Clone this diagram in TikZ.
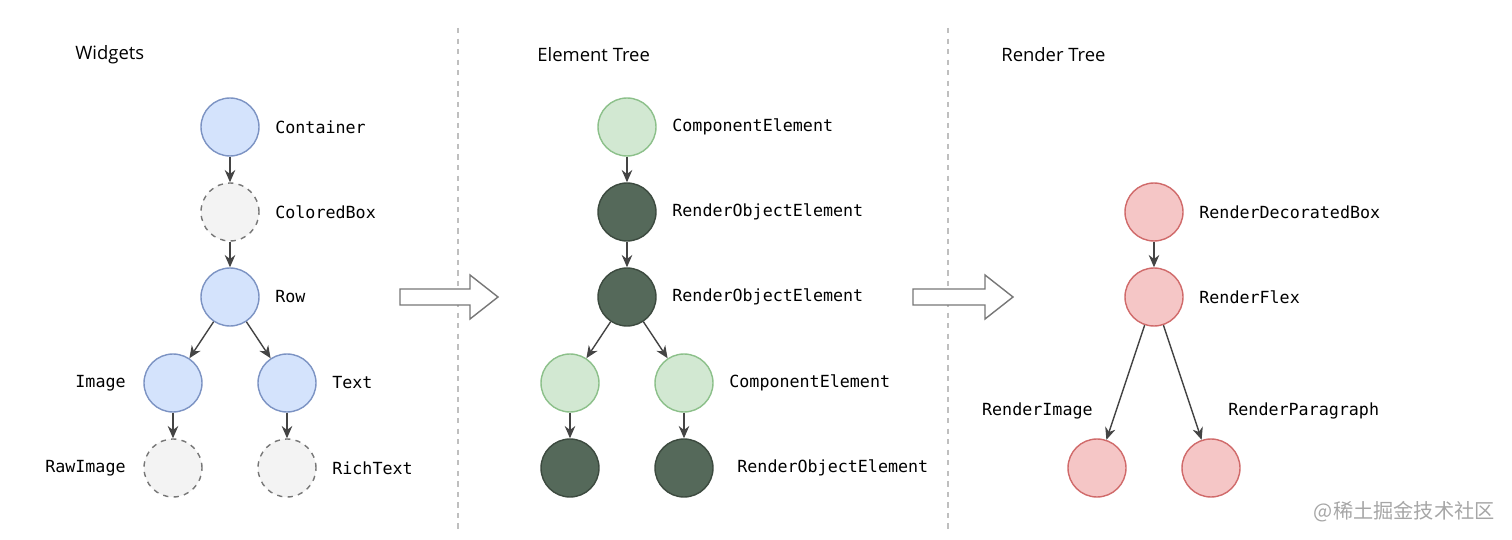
\documentclass[tikz,border=0pt]{standalone}
\usepackage{fontspec}
\setmainfont{Open Sans}
\newfontfamily\labelfont{DejaVu Sans Mono}
\newfontfamily\cjk{Noto Sans CJK SC}
\usetikzlibrary{arrows.meta}
\definecolor{bluefill}{HTML}{D4E3FC}
\definecolor{bluedraw}{HTML}{7C93C3}
\definecolor{greyfill}{HTML}{F3F3F3}
\definecolor{greydraw}{HTML}{777777}
\definecolor{lgreenfill}{HTML}{D2E8D2}
\definecolor{lgreendraw}{HTML}{8CC08A}
\definecolor{dgreenfill}{HTML}{55695A}
\definecolor{dgreendraw}{HTML}{3C4A3F}
\definecolor{pinkfill}{HTML}{F5C6C6}
\definecolor{pinkdraw}{HTML}{D06A6A}
\definecolor{edgecol}{HTML}{444444}
\begin{document}
\begin{tikzpicture}[x=0.02cm, y=-0.02cm, >={Stealth[length=7pt,width=6pt]},
    ball/.style={circle, minimum size=1.16cm, inner sep=0pt, line width=0.8pt},
    widget/.style={ball, draw=bluedraw, fill=bluefill},
    ghost/.style={ball, draw=greydraw, fill=greyfill, dashed},
    comp/.style={ball, draw=lgreendraw, fill=lgreenfill},
    robj/.style={ball, draw=dgreendraw, fill=dgreenfill},
    rend/.style={ball, draw=pinkdraw, fill=pinkfill},
    lbl/.style={font=\labelfont\fontsize{9.5}{11}\selectfont, text=black, inner sep=0pt},
    title/.style={font=\fontsize{10.5}{12}\selectfont, anchor=west, inner sep=0pt},
    edge/.style={->, draw=edgecol, line width=0.8pt},
    bigarrow/.style={draw=greydraw, fill=white, line width=0.8pt}]
  \useasboundingbox (0,0) rectangle (1512,540);

  % Titles
  \node[title] (t1) at (75,55) {Widgets};
  \node[title] (t2) at (537,55) {Element Tree};
  \node[title] (t3) at (1001,55) {Render Tree};

  % Dividers
  \draw[gray!50, dashed, line width=0.6pt] (458,28) -- (458,532);
  \draw[gray!50, dashed, line width=0.6pt] (948,28) -- (948,532);

  % Widgets
  \node[widget] (container) at (230,127) {};
  \node[ghost] (coloredbox) at (230,212) {};
  \node[widget] (row) at (230,297) {};
  \node[widget] (image) at (173,383) {};
  \node[widget] (text) at (287,383) {};
  \node[ghost] (rawimage) at (173,468) {};
  \node[ghost] (richtext) at (287,468) {};
  \node[lbl, anchor=west] at (275,127) {Container};
  \node[lbl, anchor=west] at (275,212) {ColoredBox};
  \node[lbl, anchor=west] at (275,297) {Row};
  \node[lbl, anchor=east] at (126,383) {Image};
  \node[lbl, anchor=west] at (332,383) {Text};
  \node[lbl, anchor=east] at (126,468) {RawImage};
  \node[lbl, anchor=west] at (332,468) {RichText};
  \draw[edge] (container) -- (coloredbox);
  \draw[edge] (coloredbox) -- (row);
  \draw[edge] (row) -- (image);
  \draw[edge] (row) -- (text);
  \draw[edge] (image) -- (rawimage);
  \draw[edge] (text) -- (richtext);

  % Element tree
  \node[comp] (ce1) at (627,127) {};
  \node[robj] (roe1) at (627,212) {};
  \node[robj] (roe2) at (627,297) {};
  \node[comp] (ce2) at (570,383) {};
  \node[comp] (ce3) at (684,383) {};
  \node[robj] (roe3) at (570,468) {};
  \node[robj] (roe4) at (684,468) {};
  \node[lbl, anchor=west] at (672,127) {ComponentElement};
  \node[lbl, anchor=west] at (672,212) {RenderObjectElement};
  \node[lbl, anchor=west] at (672,297) {RenderObjectElement};
  \node[lbl, anchor=west] at (729,383) {ComponentElement};
  \node[lbl, anchor=west] at (737,468) {RenderObjectElement};
  \draw[edge] (ce1) -- (roe1);
  \draw[edge] (roe1) -- (roe2);
  \draw[edge] (roe2) -- (ce2);
  \draw[edge] (roe2) -- (ce3);
  \draw[edge] (ce2) -- (roe3);
  \draw[edge] (ce3) -- (roe4);

  % Render tree
  \node[rend] (rdb) at (1154,212) {};
  \node[rend] (rflex) at (1154,297) {};
  \node[rend] (rimage) at (1097,468) {};
  \node[rend] (rpara) at (1211,468) {};
  \node[lbl, anchor=west] at (1199,212) {RenderDecoratedBox};
  \node[lbl, anchor=west] at (1199,297) {RenderFlex};
  \node[lbl, anchor=east] at (1093,411) {RenderImage};
  \node[lbl, anchor=west] at (1228,411) {RenderParagraph};
  \draw[edge] (rdb) -- (rflex);
  \draw[edge] (rflex) -- (rimage);
  \draw[edge] (rflex) -- (rpara);

  % Hollow arrows
  \draw[bigarrow] (400,289) -- (470,289) -- (470,275) -- (498,297) -- (470,319) -- (470,305) -- (400,305) -- cycle;
  \draw[bigarrow] (913,289) -- (985,289) -- (985,275) -- (1013,297) -- (985,319) -- (985,305) -- (913,305) -- cycle;

  % Watermark
  \node[anchor=east, inner sep=0pt, text=gray!70, font=\cjk\fontsize{11.5}{13}\selectfont] (mark) at (1495,512) {@稀土掘金技术社区};
\end{tikzpicture}
\end{document}
